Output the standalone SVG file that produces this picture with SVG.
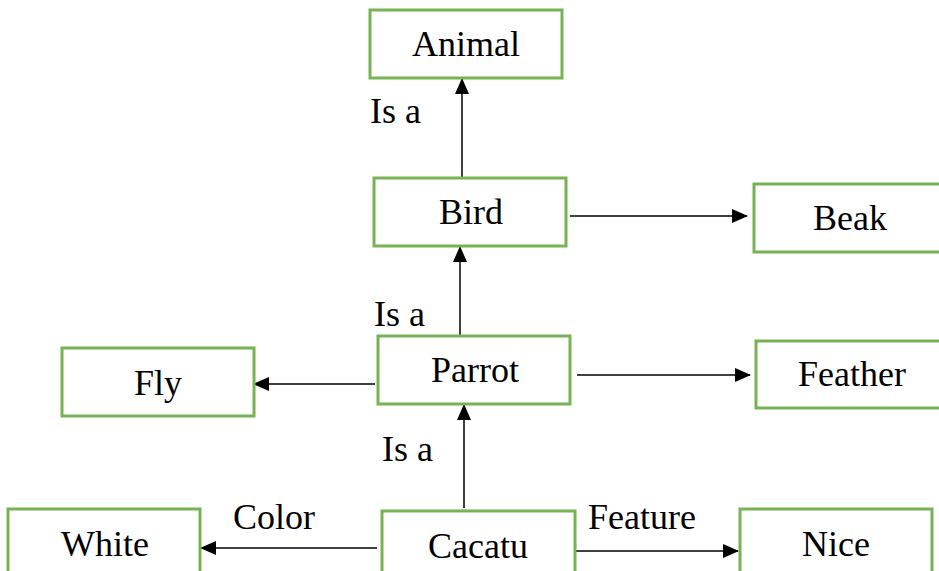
<svg xmlns="http://www.w3.org/2000/svg" width="939" height="571" viewBox="0 0 939 571">
<style>
.box{fill:#fff;stroke:#77b255;stroke-width:3}
.t{font-family:"Liberation Serif","Times New Roman",serif;font-size:36px;fill:#000;text-anchor:middle}
.l{font-family:"Liberation Serif","Times New Roman",serif;font-size:36px;fill:#000}
.c{stroke:#000;stroke-width:1.5;fill:none;marker-end:url(#ah)}
</style>
<defs>
<marker id="ah" markerWidth="16" markerHeight="14" refX="15" refY="7" orient="auto" markerUnits="userSpaceOnUse">
<path d="M0,0 L16,7 L0,14 Z" fill="#000"/>
</marker>
</defs>
<rect width="939" height="571" fill="#fff"/>
<g id="connectors">
<line class="c" x1="462" y1="180" x2="462" y2="79"/>
<line class="c" x1="460" y1="338" x2="460" y2="247"/>
<line class="c" x1="464" y1="508" x2="464" y2="405"/>
<line class="c" x1="570" y1="216" x2="747" y2="216"/>
<line class="c" x1="577" y1="375" x2="750" y2="375"/>
<line class="c" x1="375" y1="384" x2="254" y2="384"/>
<line class="c" x1="377" y1="548" x2="201" y2="548"/>
<line class="c" x1="576" y1="551" x2="738" y2="551"/>
<text class="l" x="370" y="123">Is a</text>
<text class="l" x="374" y="326">Is a</text>
<text class="l" x="382" y="461">Is a</text>
<text class="l" x="233" y="529">Color</text>
<text class="l" x="588" y="529">Feature</text>
</g>
<g id="animal"><rect class="box" x="370" y="10" width="192" height="68"/><text class="t" x="466" y="56">Animal</text></g>
<g id="bird"><rect class="box" x="374" y="178" width="192" height="68"/><text class="t" x="471" y="224">Bird</text></g>
<g id="beak"><rect class="box" x="754" y="184" width="200" height="68"/><text class="t" x="850" y="230">Beak</text></g>
<g id="parrot"><rect class="box" x="378" y="336" width="192" height="68"/><text class="t" x="475" y="382">Parrot</text></g>
<g id="feather"><rect class="box" x="756" y="341" width="200" height="67"/><text class="t" x="852" y="386">Feather</text></g>
<g id="fly"><rect class="box" x="62" y="348" width="192" height="68"/><text class="t" x="158" y="395">Fly</text></g>
<g id="white"><rect class="box" x="8" y="509" width="192" height="80"/><text class="t" x="105" y="556">White</text></g>
<g id="cacatu"><rect class="box" x="382" y="511" width="193" height="80"/><text class="t" x="478" y="558">Cacatu</text></g>
<g id="nice"><rect class="box" x="740" y="509" width="192" height="80"/><text class="t" x="836" y="556">Nice</text></g>
</svg>
